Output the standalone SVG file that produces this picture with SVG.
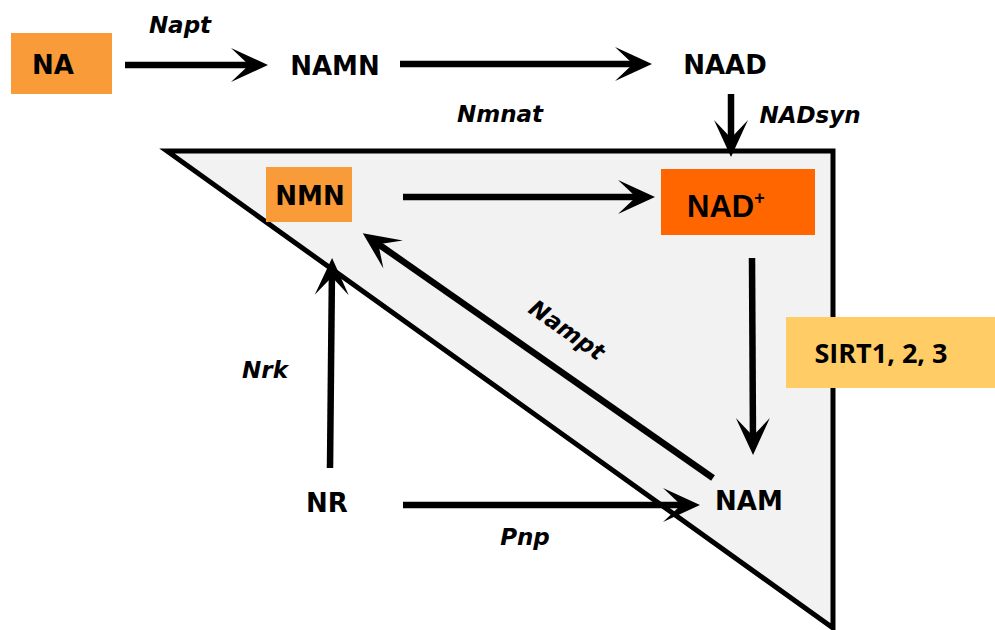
<svg xmlns="http://www.w3.org/2000/svg" width="995" height="630" viewBox="0 0 995 630">
<style>
.node{font-family:"DejaVu Sans",Verdana,sans-serif;font-weight:bold;font-size:26px;fill:#000;text-anchor:middle}
.lbl{font-family:"DejaVu Sans",Verdana,sans-serif;font-weight:bold;font-style:italic;font-size:23px;fill:#000;text-anchor:middle}
.conn{stroke:#000;stroke-width:6.5;fill:none;marker-end:url(#ah)}
</style>
<defs>
<marker id="ah" markerUnits="userSpaceOnUse" orient="auto" refX="0" refY="0" markerWidth="60" markerHeight="60" overflow="visible">
<path d="M10,0 L-27,-17 L-9,0 L-27,17 Z" fill="#000"/>
</marker>
</defs>
<rect width="995" height="630" fill="#fff"/>
<g id="region">
<polygon points="167,151 833,151 833,628" fill="#F2F2F2" stroke="#000" stroke-width="5"/>
</g>
<g id="connectors">
<line class="conn" x1="125" y1="65" x2="258" y2="65"/>
<line class="conn" x1="400" y1="64" x2="642" y2="64"/>
<line class="conn" x1="731" y1="94" x2="731" y2="147"/>
<line class="conn" x1="403" y1="197" x2="645" y2="197"/>
<line class="conn" x1="752" y1="258" x2="753" y2="445"/>
<line class="conn" x1="330" y1="468" x2="332" y2="268"/>
<line class="conn" x1="713" y1="478" x2="371" y2="239"/>
<line class="conn" x1="403" y1="505" x2="690" y2="505"/>
</g>
<g id="NA">
<rect x="11" y="33" width="101" height="61" fill="#F99B38"/>
<text class="node" x="53" y="74">NA</text>
</g>
<g id="NAMN"><text class="node" x="335" y="75">NAMN</text></g>
<g id="NAAD"><text class="node" x="725" y="74">NAAD</text></g>
<g id="NMN">
<rect x="266" y="167" width="86" height="55" fill="#F99B38"/>
<text class="node" x="310" y="205">NMN</text>
</g>
<g id="NADplus">
<rect x="661" y="169" width="154" height="66" fill="#FF6600"/>
<text x="687" y="217" font-family="'Liberation Sans',Arial,sans-serif" font-weight="bold" font-size="31" fill="#000">NAD<tspan font-size="18" dy="-13">+</tspan></text>
</g>
<g id="SIRT">
<rect x="786" y="317" width="209" height="71" fill="#FFCC66"/>
<text x="881" y="363" font-family="'Open Sans',sans-serif" font-weight="bold" font-size="27" fill="#000" text-anchor="middle">SIRT1, 2, 3</text>
</g>
<g id="NAM"><text class="node" x="749" y="510">NAM</text></g>
<g id="NR"><text class="node" x="327" y="512">NR</text></g>
<g id="labels">
<text class="lbl" x="180" y="33">Napt</text>
<text class="lbl" x="500" y="122">Nmnat</text>
<text class="lbl" x="810" y="123">NADsyn</text>
<text class="lbl" x="265" y="378">Nrk</text>
<text class="lbl" x="525" y="545">Pnp</text>
<text class="lbl" transform="translate(567,330) rotate(35)" x="0" y="8">Nampt</text>
</g>
</svg>
